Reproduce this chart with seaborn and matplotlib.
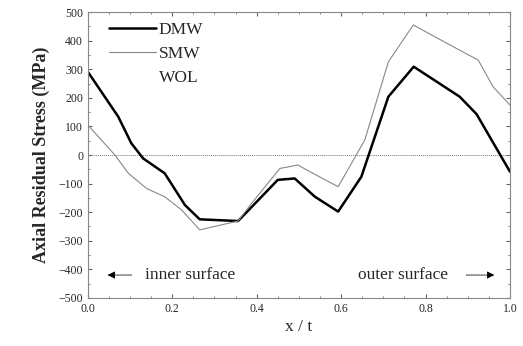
import numpy as np
import pandas as pd
import matplotlib
matplotlib.use("Agg")
import matplotlib.pyplot as plt
import seaborn as sns
from matplotlib.lines import Line2D
from matplotlib.ticker import MultipleLocator

sns.set_style("ticks")
plt.rcParams["font.family"] = ["Liberation Serif", "DejaVu Serif"]

# Data
dmw_x = [0.0, 0.072, 0.103, 0.131, 0.182, 0.23, 0.265, 0.356, 0.45, 0.49, 0.538, 0.593, 0.648, 0.712, 0.772, 0.881, 0.921, 1.0]
dmw_y = [291, 134, 41, -12, -64, -175, -225, -231, -87, -82, -146, -198, -76, 204, 309, 204, 143, -58]

smw_x = [0.0, 0.064, 0.096, 0.139, 0.182, 0.222, 0.265, 0.356, 0.388, 0.455, 0.498, 0.518, 0.593, 0.656, 0.712, 0.771, 0.858, 0.925, 0.96, 1.0]
smw_y = [105, 0, -64, -117, -146, -192, -262, -231, -169, -47, -35, -52, -111, 52, 326, 455, 385, 332, 239, 175]

yticks = list(range(-500, 501, 100))
xticks = [0.0, 0.2, 0.4, 0.6, 0.8, 1.0]
xtick_labels = ["0.0", "0.2", "0.4", "0.6", "0.8", "1.0"]

fig = plt.figure(figsize=(5.23, 3.46), dpi=100)
ax = fig.add_axes([0.168, 0.139, 0.807, 0.826])

ax.axhline(0, color="#777777", lw=0.7, ls=(0, (1, 1)))

sns.lineplot(x=dmw_x, y=dmw_y, ax=ax, color="black", lw=1.8, sort=False)
sns.lineplot(x=smw_x, y=smw_y, ax=ax, color="#888888", lw=0.8, sort=False)

ax.set_xlim(0, 1.0)
ax.set_ylim(-500, 500)
ax.set_xticks(xticks)
ax.set_xticklabels(xtick_labels)
ax.set_yticks(yticks)
ax.xaxis.set_minor_locator(MultipleLocator(0.05))
ax.yaxis.set_minor_locator(MultipleLocator(50))
ax.tick_params(which="both", direction="in", top=True, right=True, labelsize=8.5, color="#666666")
ax.tick_params(which="major", length=3)
ax.tick_params(which="minor", length=1.5)
for s in ax.spines.values():
    s.set_color("#888888")
    s.set_linewidth(0.8)

ax.set_xlabel("x / t", fontsize=12.5, labelpad=3)
ax.set_ylabel("Axial Residual Stress (MPa)", fontsize=13, labelpad=6, fontweight="bold")

handles = [
    Line2D([], [], color="black", lw=1.8),
    Line2D([], [], color="#888888", lw=0.8),
    Line2D([], [], color="white", lw=0.8),
]
ax.legend(handles, ["DMW", "SMW", "WOL"], loc="upper left", bbox_to_anchor=(0.02, 1.01),
          frameon=False, fontsize=12.5, handlelength=2.7, handletextpad=0.15,
          labelspacing=0.45, borderaxespad=0.35)

ax.annotate("", xy=(0.04, -420), xytext=(0.11, -420),
            arrowprops=dict(arrowstyle="-|>", color="black", lw=0.6, ls=(0, (2, 1)),
                            mutation_scale=11))
ax.text(0.135, -420, "inner surface", fontsize=12.5, va="center", ha="left")
ax.text(0.64, -420, "outer surface", fontsize=12.5, va="center", ha="left")
ax.annotate("", xy=(0.97, -420), xytext=(0.89, -420),
            arrowprops=dict(arrowstyle="-|>", color="black", lw=0.6, ls=(0, (2, 1)),
                            mutation_scale=11))

fig.savefig("out.png", dpi=100)
